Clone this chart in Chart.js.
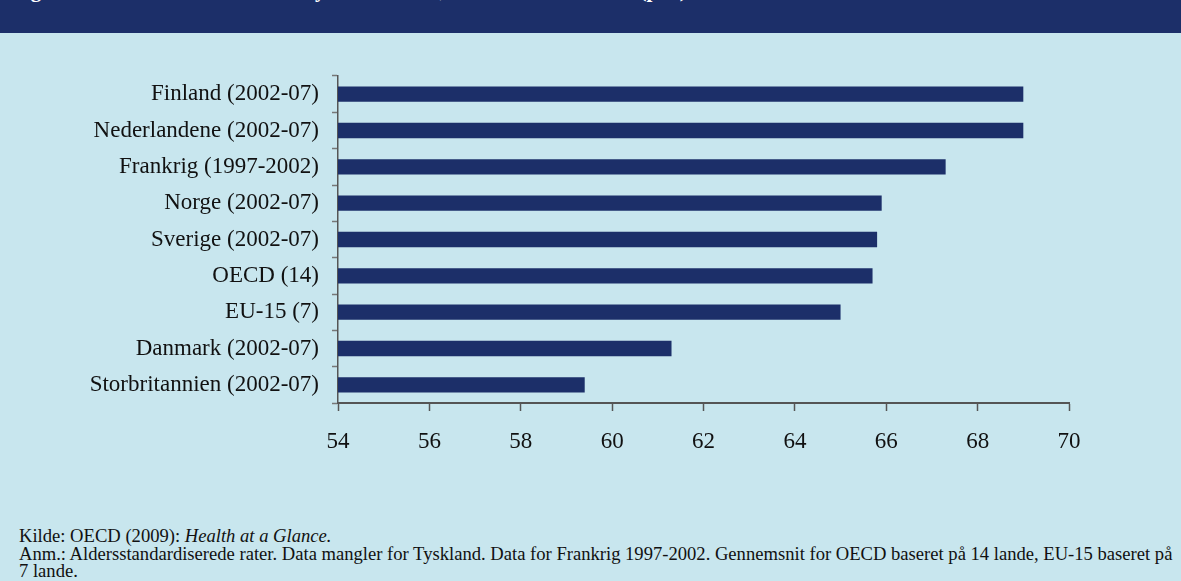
<!DOCTYPE html>
<html>
<head>
<meta charset="utf-8">
<script src="https://cdn.jsdelivr.net/npm/chart.js@4"></script>
<style>
  body { margin: 0; background: #c8e6ee; width: 1181px; height: 581px; overflow: hidden; position: relative; font-family: "Liberation Serif", "Times New Roman", serif; }
  #banner { position: absolute; left: 0; top: 0; width: 1181px; height: 33px; background: #1c2f69; overflow: hidden; }
  #banner span { position: absolute; left: 12px; top: -22px; color: #fff; font-weight: bold; font-size: 21px; white-space: nowrap; }
  #wrap { position: absolute; left: 0; top: 0; width: 1181px; height: 480px; }
  #notes { position: absolute; left: 19px; top: 527px; font-size: 18.6px; line-height: 17.5px; color: #111; white-space: nowrap; }
</style>
</head>
<body>
<div id="banner"><span>Figur 4.3: Femårsoverlevelse for tyktarmskræft, aldersstandardiseret (pct.)</span></div>
<div id="wrap"><canvas id="chart"></canvas></div>
<div id="notes">
  Kilde: OECD (2009): <i>Health at a Glance.</i><br>
  Anm.: Aldersstandardiserede rater. Data mangler for Tyskland. Data for Frankrig 1997-2002. Gennemsnit for OECD baseret på 14 lande, EU-15 baseret på<br>
  7 lande.
</div>
<script>
// categories and values
const countries = ['Finland (2002-07)', 'Nederlandene (2002-07)', 'Frankrig (1997-2002)', 'Norge (2002-07)',
  'Sverige (2002-07)', 'OECD (14)', 'EU-15 (7)', 'Danmark (2002-07)', 'Storbritannien (2002-07)'];
const survival = [69.0, 69.0, 67.3, 65.9, 65.8, 65.7, 65.0, 61.3, 59.4];
const xTicks = [54, 56, 58, 60, 62, 64, 66, 68, 70];

const navy = '#1c2f69';

function renderChart() {
    const ctx = document.getElementById('chart').getContext('2d');
    new Chart(ctx, {
        type: 'bar',
        data: {
            labels: countries,
            datasets: [{
                data: survival,
                backgroundColor: navy,
                borderWidth: 0,
                barPercentage: 0.42,
                categoryPercentage: 1
            }]
        },
        options: {
            indexAxis: 'y',
            responsive: true,
            maintainAspectRatio: false,
            animation: false,
            layout: { padding: { top: 76, right: 112, bottom: 0, left: 0 } },
            plugins: { legend: { display: false }, tooltip: { enabled: false } },
            scales: {
                x: {
                    min: 54,
                    max: 70,
                    afterBuildTicks: axis => { axis.ticks = xTicks.map(v => ({ value: v })); },
                    afterFit: axis => { axis.height = 77; },
                    border: { display: true, color: '#555', width: 2 },
                    grid: { drawOnChartArea: false, drawTicks: true, tickLength: 8, tickColor: '#555', tickWidth: 1.5 },
                    ticks: { color: '#111', padding: 17, font: { family: 'Liberation Serif', size: 23 } }
                },
                y: {
                    afterFit: axis => { axis.width = 338; },
                    border: { display: true, color: '#555', width: 1.5 },
                    grid: { offset: true, drawOnChartArea: false, drawTicks: true, tickLength: 6, tickColor: '#777', tickWidth: 1.5 },
                    ticks: { color: '#111', padding: 13, font: { family: 'Liberation Serif', size: 23 } }
                }
            }
        }
    });
}

window.onload = function() {
    renderChart();
};
</script>
</body>
</html>
